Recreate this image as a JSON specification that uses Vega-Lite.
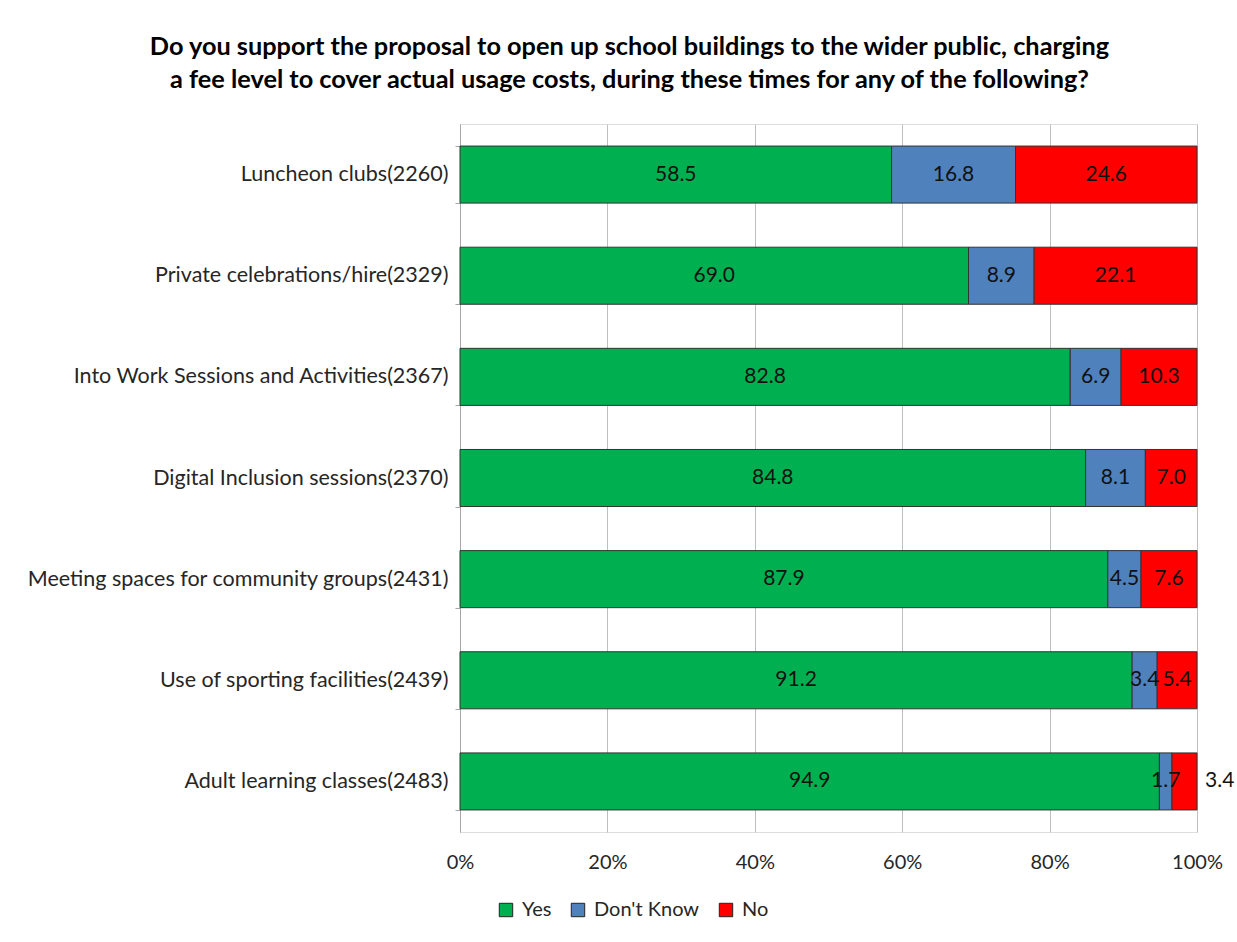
{
  "$schema": "https://vega.github.io/schema/vega-lite/v6.json",
  "width": 737,
  "height": 708,
  "autosize": {"type": "none"},
  "padding": {"left": 460, "top": 124, "right": 40, "bottom": 110},
  "background": "white",
  "title": {
    "text": ["Do you support the proposal to open up school buildings to the wider public, charging", "a fee level to cover actual usage costs, during these times for any of the following?"],
    "font": "Lato", "fontSize": 25.3, "fontWeight": "bold", "color": "#000000",
    "anchor": "middle", "dx": -199, "offset": 20, "lineHeight": 33
  },
  "data": {"values": [
    {"category": "Luncheon clubs(2260)", "response": "Yes", "order": 1, "value": 58.5},
    {"category": "Luncheon clubs(2260)", "response": "Don't Know", "order": 2, "value": 16.8},
    {"category": "Luncheon clubs(2260)", "response": "No", "order": 3, "value": 24.6},
    {"category": "Private celebrations/hire(2329)", "response": "Yes", "order": 1, "value": 69.0},
    {"category": "Private celebrations/hire(2329)", "response": "Don't Know", "order": 2, "value": 8.9},
    {"category": "Private celebrations/hire(2329)", "response": "No", "order": 3, "value": 22.1},
    {"category": "Into Work Sessions and Activities(2367)", "response": "Yes", "order": 1, "value": 82.8},
    {"category": "Into Work Sessions and Activities(2367)", "response": "Don't Know", "order": 2, "value": 6.9},
    {"category": "Into Work Sessions and Activities(2367)", "response": "No", "order": 3, "value": 10.3},
    {"category": "Digital Inclusion sessions(2370)", "response": "Yes", "order": 1, "value": 84.8},
    {"category": "Digital Inclusion sessions(2370)", "response": "Don't Know", "order": 2, "value": 8.1},
    {"category": "Digital Inclusion sessions(2370)", "response": "No", "order": 3, "value": 7.0},
    {"category": "Meeting spaces for community groups(2431)", "response": "Yes", "order": 1, "value": 87.9},
    {"category": "Meeting spaces for community groups(2431)", "response": "Don't Know", "order": 2, "value": 4.5},
    {"category": "Meeting spaces for community groups(2431)", "response": "No", "order": 3, "value": 7.6},
    {"category": "Use of sporting facilities(2439)", "response": "Yes", "order": 1, "value": 91.2},
    {"category": "Use of sporting facilities(2439)", "response": "Don't Know", "order": 2, "value": 3.4},
    {"category": "Use of sporting facilities(2439)", "response": "No", "order": 3, "value": 5.4},
    {"category": "Adult learning classes(2483)", "response": "Yes", "order": 1, "value": 94.9},
    {"category": "Adult learning classes(2483)", "response": "Don't Know", "order": 2, "value": 1.7},
    {"category": "Adult learning classes(2483)", "response": "No", "order": 3, "value": 3.4}
  ]},
  "transform": [
    {"stack": "value", "groupby": ["category"], "sort": [{"field": "order", "order": "ascending"}], "offset": "normalize", "as": ["x0", "x1"]},
    {"calculate": "(datum.x0 + datum.x1) / 2", "as": "xmid"}
  ],
  "encoding": {
    "y": {
      "field": "category", "type": "nominal",
      "sort": ["Luncheon clubs(2260)", "Private celebrations/hire(2329)", "Into Work Sessions and Activities(2367)", "Digital Inclusion sessions(2370)", "Meeting spaces for community groups(2431)", "Use of sporting facilities(2439)", "Adult learning classes(2483)"],
      "scale": {"paddingInner": 0.436, "paddingOuter": 0.218},
      "axis": {
        "title": null, "labelFont": "Lato", "labelFontSize": 21.5, "labelColor": "#262626",
        "labelPadding": 7, "tickBand": "extent", "tickSize": 5, "tickColor": "#A6A6A6",
        "domainColor": "#A6A6A6", "labelLimit": 500
      }
    }
  },
  "layer": [
    {
      "mark": {"type": "bar", "stroke": "#333333", "strokeWidth": 1},
      "encoding": {
        "x": {
          "field": "x0", "type": "quantitative", "scale": {"domain": [0, 1], "nice": false},
          "axis": {
            "title": null, "format": ".0%", "values": [0, 0.2, 0.4, 0.6, 0.8, 1],
            "grid": true, "gridColor": "#BFBFBF", "domain": false, "ticks": false, "labelFlush": false,
            "labelFont": "Lato", "labelFontSize": 20, "labelColor": "#262626", "labelPadding": 20
          }
        },
        "x2": {"field": "x1"},
        "color": {
          "field": "response", "type": "nominal",
          "scale": {"domain": ["Yes", "Don't Know", "No"], "range": ["#00B050", "#4F81BD", "#FF0000"]},
          "legend": {
            "title": null, "orient": "none", "direction": "horizontal",
            "legendX": 36, "legendY": 776, "padding": 0,
            "symbolType": "square", "symbolSize": 180, "symbolStrokeColor": "#222222", "symbolStrokeWidth": 1,
            "labelFont": "Lato", "labelFontSize": 20, "labelColor": "#262626",
            "columnPadding": 16, "labelOffset": 6
          }
        }
      }
    },
    {
      "transform": [{"filter": "!(datum.category == 'Adult learning classes(2483)' && datum.response == 'No')"}],
      "mark": {"type": "text", "font": "Lato", "fontSize": 21, "color": "#111111"},
      "encoding": {
        "x": {"field": "xmid", "type": "quantitative"},
        "text": {"field": "value", "type": "quantitative", "format": ".1f"}
      }
    },
    {
      "transform": [{"filter": "datum.category == 'Adult learning classes(2483)' && datum.response == 'No'"}],
      "mark": {"type": "text", "font": "Lato", "fontSize": 21, "color": "#111111", "align": "left", "dx": 8},
      "encoding": {
        "x": {"field": "x1", "type": "quantitative"},
        "text": {"field": "value", "type": "quantitative", "format": ".1f"}
      }
    }
  ]
}
